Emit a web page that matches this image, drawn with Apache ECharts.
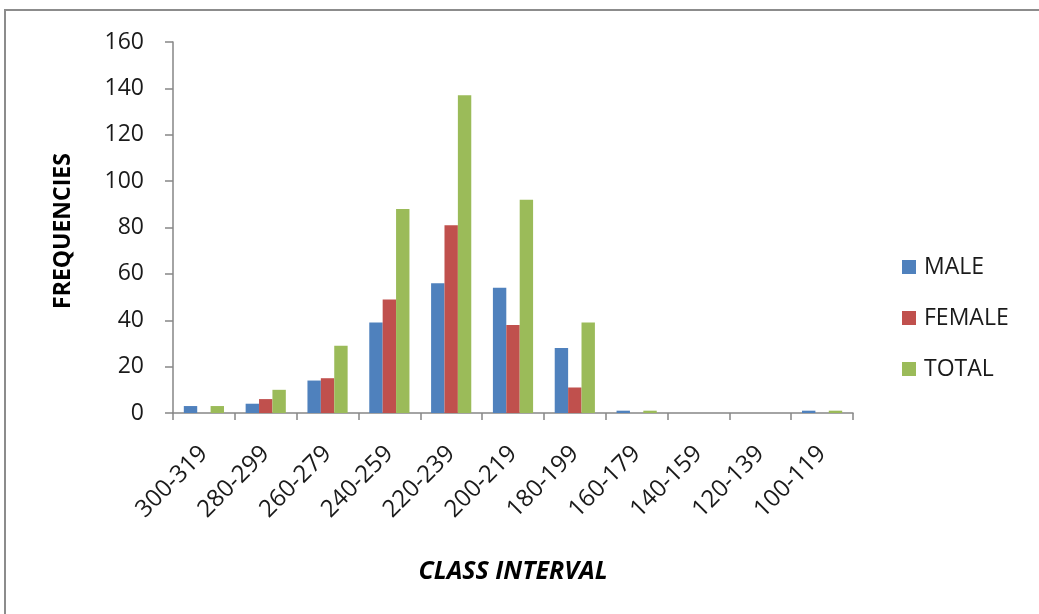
<!DOCTYPE html>
<html>
<head>
<meta charset="utf-8">
<script src="https://cdn.jsdelivr.net/npm/echarts@6/dist/echarts.min.js"></script>
<style>
  html, body { margin: 0; padding: 0; background: #fff; }
  #chart { width: 1039px; height: 614px; }
</style>
</head>
<body>
<div id="chart"></div>
<script>
// Class intervals, highest first
var categories = ['300-319', '280-299', '260-279', '240-259', '220-239', '200-219',
                  '180-199', '160-179', '140-159', '120-139', '100-119'];
var male   = [3, 4, 14, 39, 56, 54, 28, 1, 0, 0, 1];
var female = [0, 6, 15, 49, 81, 38, 11, 0, 0, 0, 0];
var total  = [3, 10, 29, 88, 137, 92, 39, 1, 0, 0, 1];
var yTicks = [0, 20, 40, 60, 80, 100, 120, 140, 160];

var FONT = '"Open Sans", "Liberation Sans", sans-serif';
var AXIS_GREY = '#868686';

var chart = echarts.init(document.getElementById('chart'), null, { renderer: 'canvas' });

function bar(name, data, color) {
  return {
    name: name,
    type: 'bar',
    data: data,
    barGap: '0%',
    barCategoryGap: '35%',
    itemStyle: { color: color },
    emphasis: { disabled: true }
  };
}

chart.setOption({
  animation: false,
  backgroundColor: '#fff',
  grid: { left: 173, top: 42, right: 186, bottom: 201, containLabel: false },
  legend: {
    orient: 'vertical',
    left: 897,
    top: 250,
    itemWidth: 14,
    itemHeight: 14,
    itemGap: 27,
    icon: 'rect',
    textStyle: { fontFamily: FONT, fontSize: 23, color: '#1a1a1a', lineHeight: 24, padding: [0, 0, 0, 3] },
    data: ['MALE', 'FEMALE', 'TOTAL']
  },
  xAxis: {
    type: 'category',
    data: categories,
    boundaryGap: true,
    axisLine: { lineStyle: { color: AXIS_GREY, width: 1.5 } },
    axisTick: { show: true, length: 7, alignWithLabel: false, lineStyle: { color: AXIS_GREY, width: 1.5 } },
    axisLabel: {
      rotate: 45,
      interval: 0,
      margin: 37,
      fontFamily: FONT,
      fontSize: 24,
      color: '#1a1a1a'
    },
    splitLine: { show: false }
  },
  yAxis: {
    type: 'value',
    min: yTicks[0],
    max: yTicks[yTicks.length - 1],
    interval: yTicks[1] - yTicks[0],
    axisLine: { show: true, lineStyle: { color: AXIS_GREY, width: 1.5 } },
    axisTick: { show: true, length: 8, lineStyle: { color: AXIS_GREY, width: 1.5 } },
    axisLabel: { margin: 29, fontFamily: FONT, fontSize: 23, color: '#1a1a1a' },
    splitLine: { show: false }
  },
  graphic: [
    {
      type: 'rect',
      silent: true,
      shape: { x: 5, y: 10, width: 1100, height: 700 },
      style: { fill: 'none', stroke: '#8c8c8c', lineWidth: 2 },
      z: -10
    },
    {
      type: 'text',
      x: 63,
      y: 231,
      rotation: Math.PI / 2,
      style: {
        text: 'FREQUENCIES',
        fontFamily: FONT,
        fontWeight: 'bold',
        fontSize: 23,
        fill: '#000',
        align: 'center',
        verticalAlign: 'middle'
      }
    },
    {
      type: 'text',
      x: 513,
      y: 572,
      style: {
        text: 'CLASS INTERVAL',
        fontFamily: FONT,
        fontWeight: 'bold',
        fontStyle: 'italic',
        fontSize: 25,
        fill: '#000',
        align: 'center',
        verticalAlign: 'middle'
      }
    }
  ],
  series: [
    bar('MALE', male, '#4F81BD'),
    bar('FEMALE', female, '#C0504D'),
    bar('TOTAL', total, '#9BBB59')
  ]
});
</script>
</body>
</html>
